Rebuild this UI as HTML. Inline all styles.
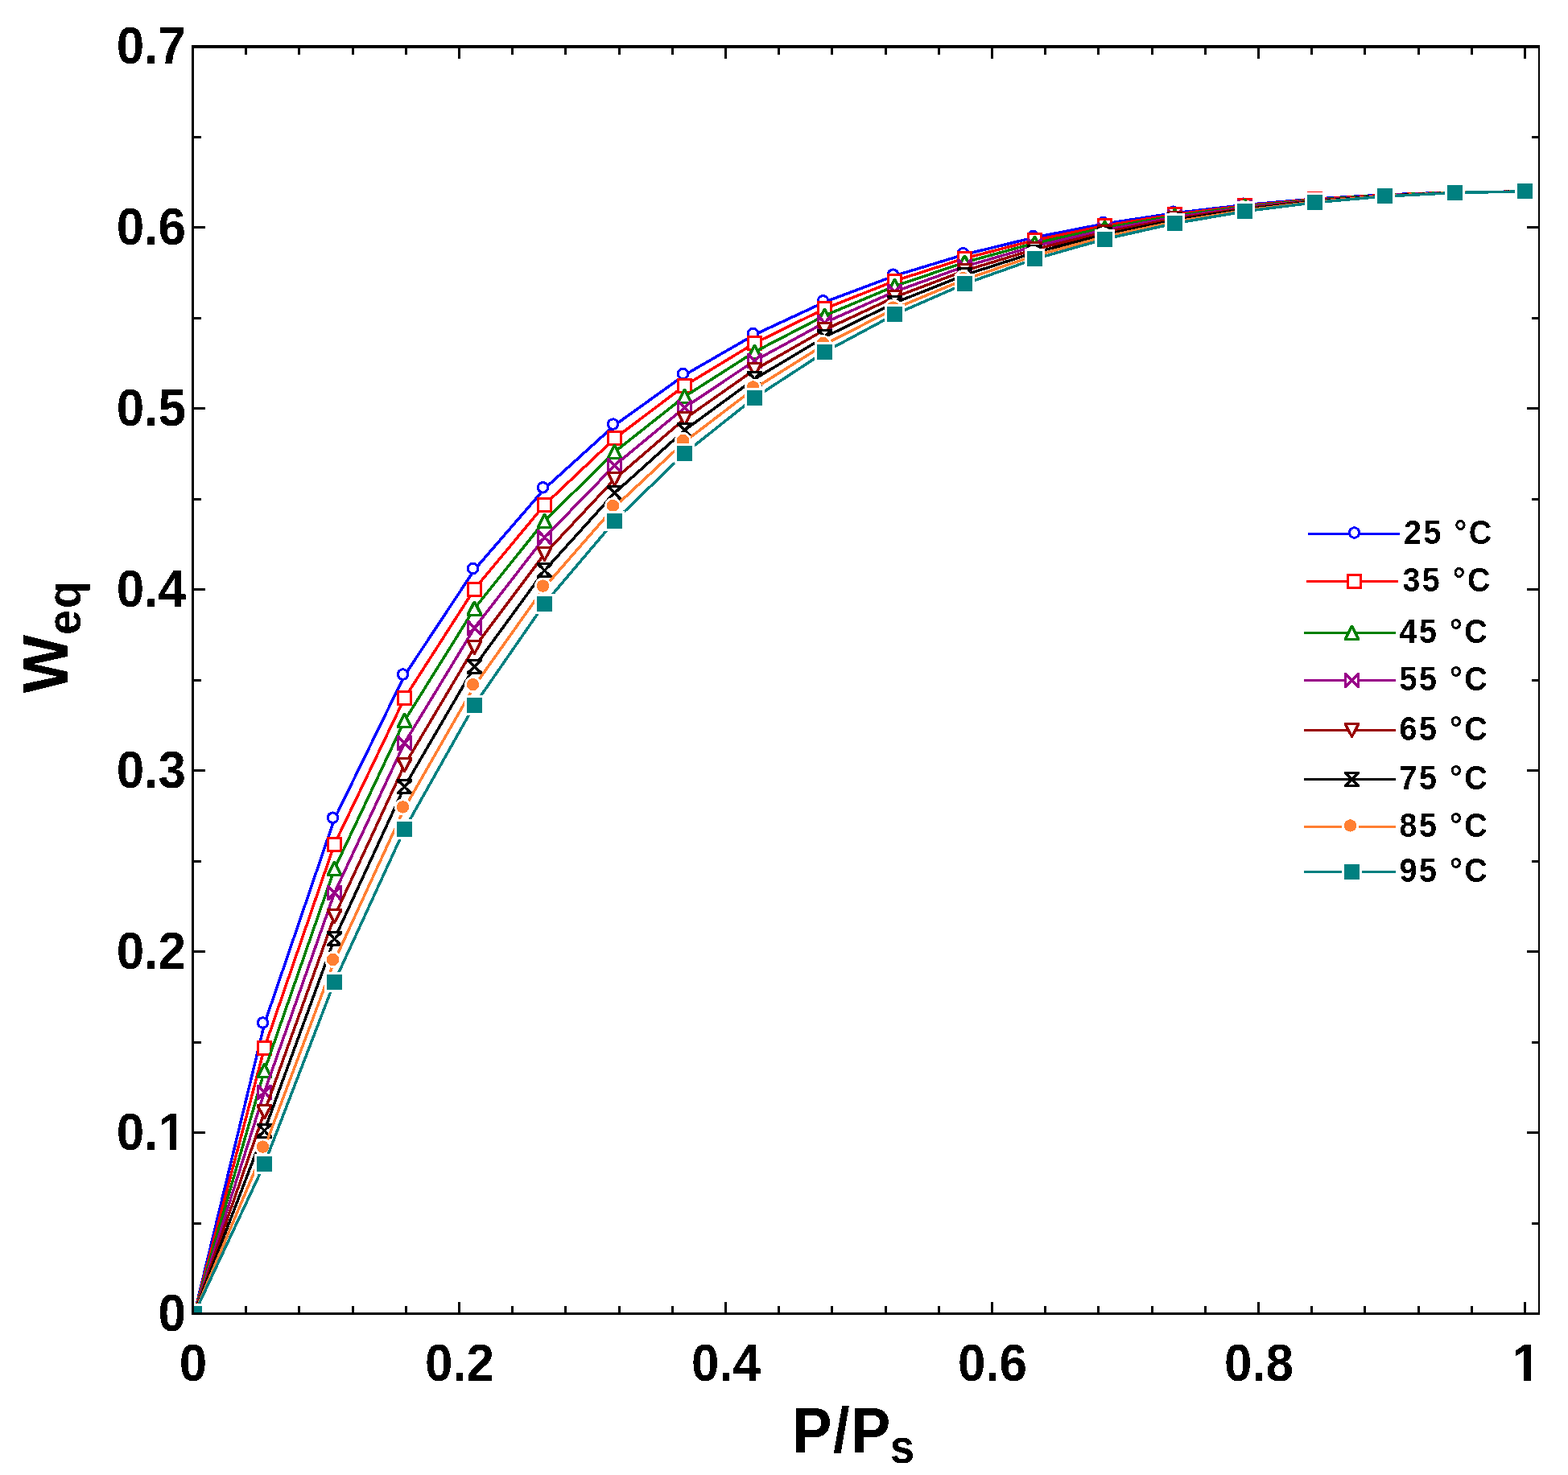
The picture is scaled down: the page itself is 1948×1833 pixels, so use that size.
<!DOCTYPE html>
<html lang="en"><head><meta charset="utf-8"><title>Weq vs P/Ps</title>
<style>
html,body{margin:0;padding:0;background:#fff;}
body{width:1948px;height:1833px;overflow:hidden;font-family:"Liberation Sans",sans-serif;}
svg{display:block;}
</style></head><body>
<svg width="1948" height="1833" viewBox="0 0 1948 1833">
<rect width="1948" height="1833" fill="#fff"/>
<defs>
<clipPath id="pc"><rect x="241" y="60" width="1670" height="1571"/></clipPath>
<filter id="bw" filterUnits="userSpaceOnUse" x="0" y="0" width="1948" height="1833" color-interpolation-filters="sRGB"><feComponentTransfer><feFuncA type="discrete" tableValues="0 1"/></feComponentTransfer></filter>
<g id="m0"><circle cx="-2" cy="-1.5" r="6.25" fill="#fff" stroke="currentColor" stroke-width="3"/></g>
<g id="m1"><path fill="currentColor" d="M-10-9.5H9.5V9.5H-10Z"/><path fill="#fff" d="M-6.5-6.5H6.5V6.5H-6.5Z"/></g>
<g id="m2"><path fill="currentColor" d="M-1.5 -9.5L1.5 -9.5L9.5 6L9.5 9.5L-9.5 9.5L-9.5 6Z"/><path fill="#fff" d="M0 -4.5L5.6 6.5L-5.6 6.5Z"/></g>
<g id="m3"><path fill="currentColor" d="M-10 -9.5L-6.5 -9.5L0 -2.2L6.5 -9.5L9.5 -9.5L9.5 9.5L6.5 9.5L0 2.2L-6.5 9.5L-10 9.5Z"/><path fill="#fff" d="M-6.5 -3.7L-2.3 0L-6.5 3.7ZM6.5 -3.7L2.3 0L6.5 3.7Z"/></g>
<g id="m4"><path fill="currentColor" d="M-9.5 -9.5L9.5 -9.5L9.5 -6L1 9.5L-1 9.5L-9.5 -6Z"/><path fill="#fff" d="M-5.6 -6.5L5.6 -6.5L0 4.2Z"/></g>
<g id="m5"><path fill="currentColor" d="M-9.5 -9.5L9.5 -9.5L9.5 -6.5L2.2 0L9.5 6.5L9.5 9.5L-9.5 9.5L-9.5 6.5L-2.2 0L-9.5 -6.5Z"/><path fill="#fff" d="M-3.7 -6.5L3.7 -6.5L0 -2.3ZM-3.7 6.5L3.7 6.5L0 2.3Z"/></g>
<g id="m6"><circle cx="-2" cy="-1.5" r="10.5" fill="#fff"/><circle cx="-2" cy="-1.5" r="7.7" fill="currentColor"/></g>
<g id="m7"><path fill="#fff" d="M-12.5-12.5H12V12.5H-12.5Z"/><path fill="currentColor" d="M-10-9.5H9.5V9.5H-10Z"/></g>
</defs>
<g clip-path="url(#pc)" shape-rendering="crispEdges">
<g color="#0000ff"><path d="M241.5 1632.5L328.5 1272.44L415.5 1017.66L502.5 839.54L589.5 707.95L676.5 607.31L763.5 528.57L850.5 466.02L937.5 415.85L1024.5 375.37L1111.5 342.63L1198.5 316.19L1285.5 294.94L1372.5 278.01L1459.5 264.74L1546.5 254.59L1633.5 247.12L1720.5 242.01L1807.5 238.99L1894.5 237.93" fill="none" stroke="#0000ff" stroke-width="3.5" stroke-linejoin="round"/>
<use href="#m0" x="241.5" y="1632.5"/>
<use href="#m0" x="328.5" y="1272.44"/>
<use href="#m0" x="415.5" y="1017.66"/>
<use href="#m0" x="502.5" y="839.54"/>
<use href="#m0" x="589.5" y="707.95"/>
<use href="#m0" x="676.5" y="607.31"/>
<use href="#m0" x="763.5" y="528.57"/>
<use href="#m0" x="850.5" y="466.02"/>
<use href="#m0" x="937.5" y="415.85"/>
<use href="#m0" x="1024.5" y="375.37"/>
<use href="#m0" x="1111.5" y="342.63"/>
<use href="#m0" x="1198.5" y="316.19"/>
<use href="#m0" x="1285.5" y="294.94"/>
<use href="#m0" x="1372.5" y="278.01"/>
<use href="#m0" x="1459.5" y="264.74"/>
<use href="#m0" x="1546.5" y="254.59"/>
<use href="#m0" x="1633.5" y="247.12"/>
<use href="#m0" x="1720.5" y="242.01"/>
<use href="#m0" x="1807.5" y="238.99"/>
<use href="#m0" x="1894.5" y="237.93"/>
</g>
<g color="#ff0000"><path d="M241.5 1632.5L328.5 1302.4L415.5 1049.13L502.5 867.75L589.5 732.01L676.5 627.35L763.5 544.99L850.5 479.31L937.5 426.46L1024.5 383.71L1111.5 349.08L1198.5 321.06L1285.5 298.51L1372.5 280.54L1459.5 266.44L1546.5 255.65L1633.5 247.71L1720.5 242.27L1807.5 239.06L1894.5 237.93" fill="none" stroke="#ff0000" stroke-width="3.5" stroke-linejoin="round"/>
<use href="#m1" x="241.5" y="1632.5"/>
<use href="#m1" x="328.5" y="1302.4"/>
<use href="#m1" x="415.5" y="1049.13"/>
<use href="#m1" x="502.5" y="867.75"/>
<use href="#m1" x="589.5" y="732.01"/>
<use href="#m1" x="676.5" y="627.35"/>
<use href="#m1" x="763.5" y="544.99"/>
<use href="#m1" x="850.5" y="479.31"/>
<use href="#m1" x="937.5" y="426.46"/>
<use href="#m1" x="1024.5" y="383.71"/>
<use href="#m1" x="1111.5" y="349.08"/>
<use href="#m1" x="1198.5" y="321.06"/>
<use href="#m1" x="1285.5" y="298.51"/>
<use href="#m1" x="1372.5" y="280.54"/>
<use href="#m1" x="1459.5" y="266.44"/>
<use href="#m1" x="1546.5" y="255.65"/>
<use href="#m1" x="1633.5" y="247.71"/>
<use href="#m1" x="1720.5" y="242.27"/>
<use href="#m1" x="1807.5" y="239.06"/>
<use href="#m1" x="1894.5" y="237.93"/>
</g>
<g color="#008000"><path d="M241.5 1632.5L328.5 1330.63L415.5 1079.84L502.5 895.73L589.5 756.12L676.5 647.56L763.5 561.65L850.5 492.83L937.5 437.28L1024.5 392.23L1111.5 355.67L1198.5 326.05L1285.5 302.18L1372.5 283.14L1459.5 268.19L1546.5 256.74L1633.5 248.32L1720.5 242.54L1807.5 239.13L1894.5 237.93" fill="none" stroke="#008000" stroke-width="3.5" stroke-linejoin="round"/>
<use href="#m2" x="241.5" y="1632.5"/>
<use href="#m2" x="328.5" y="1330.63"/>
<use href="#m2" x="415.5" y="1079.84"/>
<use href="#m2" x="502.5" y="895.73"/>
<use href="#m2" x="589.5" y="756.12"/>
<use href="#m2" x="676.5" y="647.56"/>
<use href="#m2" x="763.5" y="561.65"/>
<use href="#m2" x="850.5" y="492.83"/>
<use href="#m2" x="937.5" y="437.28"/>
<use href="#m2" x="1024.5" y="392.23"/>
<use href="#m2" x="1111.5" y="355.67"/>
<use href="#m2" x="1198.5" y="326.05"/>
<use href="#m2" x="1285.5" y="302.18"/>
<use href="#m2" x="1372.5" y="283.14"/>
<use href="#m2" x="1459.5" y="268.19"/>
<use href="#m2" x="1546.5" y="256.74"/>
<use href="#m2" x="1633.5" y="248.32"/>
<use href="#m2" x="1720.5" y="242.54"/>
<use href="#m2" x="1807.5" y="239.13"/>
<use href="#m2" x="1894.5" y="237.93"/>
</g>
<g color="#990088"><path d="M241.5 1632.5L328.5 1357.14L415.5 1109.72L502.5 923.43L589.5 780.24L676.5 667.92L763.5 578.5L850.5 506.56L937.5 448.3L1024.5 400.94L1111.5 362.42L1198.5 331.16L1285.5 305.95L1372.5 285.81L1459.5 269.99L1546.5 257.86L1633.5 248.94L1720.5 242.81L1807.5 239.2L1894.5 237.93" fill="none" stroke="#990088" stroke-width="3.5" stroke-linejoin="round"/>
<use href="#m3" x="241.5" y="1632.5"/>
<use href="#m3" x="328.5" y="1357.14"/>
<use href="#m3" x="415.5" y="1109.72"/>
<use href="#m3" x="502.5" y="923.43"/>
<use href="#m3" x="589.5" y="780.24"/>
<use href="#m3" x="676.5" y="667.92"/>
<use href="#m3" x="763.5" y="578.5"/>
<use href="#m3" x="850.5" y="506.56"/>
<use href="#m3" x="937.5" y="448.3"/>
<use href="#m3" x="1024.5" y="400.94"/>
<use href="#m3" x="1111.5" y="362.42"/>
<use href="#m3" x="1198.5" y="331.16"/>
<use href="#m3" x="1285.5" y="305.95"/>
<use href="#m3" x="1372.5" y="285.81"/>
<use href="#m3" x="1459.5" y="269.99"/>
<use href="#m3" x="1546.5" y="257.86"/>
<use href="#m3" x="1633.5" y="248.94"/>
<use href="#m3" x="1720.5" y="242.81"/>
<use href="#m3" x="1807.5" y="239.2"/>
<use href="#m3" x="1894.5" y="237.93"/>
</g>
<g color="#990000"><path d="M241.5 1632.5L328.5 1381.95L415.5 1138.75L502.5 950.81L589.5 804.32L676.5 688.4L763.5 595.54L850.5 520.5L937.5 459.52L1024.5 409.82L1111.5 369.31L1198.5 336.39L1285.5 309.8L1372.5 288.55L1459.5 271.83L1546.5 259.01L1633.5 249.57L1720.5 243.1L1807.5 239.27L1894.5 237.93" fill="none" stroke="#990000" stroke-width="3.5" stroke-linejoin="round"/>
<use href="#m4" x="241.5" y="1632.5"/>
<use href="#m4" x="328.5" y="1381.95"/>
<use href="#m4" x="415.5" y="1138.75"/>
<use href="#m4" x="502.5" y="950.81"/>
<use href="#m4" x="589.5" y="804.32"/>
<use href="#m4" x="676.5" y="688.4"/>
<use href="#m4" x="763.5" y="595.54"/>
<use href="#m4" x="850.5" y="520.5"/>
<use href="#m4" x="937.5" y="459.52"/>
<use href="#m4" x="1024.5" y="409.82"/>
<use href="#m4" x="1111.5" y="369.31"/>
<use href="#m4" x="1198.5" y="336.39"/>
<use href="#m4" x="1285.5" y="309.8"/>
<use href="#m4" x="1372.5" y="288.55"/>
<use href="#m4" x="1459.5" y="271.83"/>
<use href="#m4" x="1546.5" y="259.01"/>
<use href="#m4" x="1633.5" y="249.57"/>
<use href="#m4" x="1720.5" y="243.1"/>
<use href="#m4" x="1807.5" y="239.27"/>
<use href="#m4" x="1894.5" y="237.93"/>
</g>
<g color="#000000"><path d="M241.5 1632.5L328.5 1405.1L415.5 1166.86L502.5 977.81L589.5 828.34L676.5 708.97L763.5 612.75L850.5 534.63L937.5 470.92L1024.5 418.87L1111.5 376.35L1198.5 341.74L1285.5 313.75L1372.5 291.35L1459.5 273.72L1546.5 260.2L1633.5 250.23L1720.5 243.39L1807.5 239.35L1894.5 237.93" fill="none" stroke="#000000" stroke-width="3.5" stroke-linejoin="round"/>
<use href="#m5" x="241.5" y="1632.5"/>
<use href="#m5" x="328.5" y="1405.1"/>
<use href="#m5" x="415.5" y="1166.86"/>
<use href="#m5" x="502.5" y="977.81"/>
<use href="#m5" x="589.5" y="828.34"/>
<use href="#m5" x="676.5" y="708.97"/>
<use href="#m5" x="763.5" y="612.75"/>
<use href="#m5" x="850.5" y="534.63"/>
<use href="#m5" x="937.5" y="470.92"/>
<use href="#m5" x="1024.5" y="418.87"/>
<use href="#m5" x="1111.5" y="376.35"/>
<use href="#m5" x="1198.5" y="341.74"/>
<use href="#m5" x="1285.5" y="313.75"/>
<use href="#m5" x="1372.5" y="291.35"/>
<use href="#m5" x="1459.5" y="273.72"/>
<use href="#m5" x="1546.5" y="260.2"/>
<use href="#m5" x="1633.5" y="250.23"/>
<use href="#m5" x="1720.5" y="243.39"/>
<use href="#m5" x="1807.5" y="239.35"/>
<use href="#m5" x="1894.5" y="237.93"/>
</g>
<g color="#ff7f32"><path d="M241.5 1632.5L328.5 1426.62L415.5 1194.04L502.5 1004.4L589.5 852.25L676.5 729.6L763.5 630.1L850.5 548.93L937.5 482.51L1024.5 428.08L1111.5 383.53L1198.5 347.2L1285.5 317.78L1372.5 294.22L1459.5 275.66L1546.5 261.41L1633.5 250.9L1720.5 243.69L1807.5 239.43L1894.5 237.93" fill="none" stroke="#ff7f32" stroke-width="3.5" stroke-linejoin="round"/>
<use href="#m6" x="241.5" y="1632.5"/>
<use href="#m6" x="328.5" y="1426.62"/>
<use href="#m6" x="415.5" y="1194.04"/>
<use href="#m6" x="502.5" y="1004.4"/>
<use href="#m6" x="589.5" y="852.25"/>
<use href="#m6" x="676.5" y="729.6"/>
<use href="#m6" x="763.5" y="630.1"/>
<use href="#m6" x="850.5" y="548.93"/>
<use href="#m6" x="937.5" y="482.51"/>
<use href="#m6" x="1024.5" y="428.08"/>
<use href="#m6" x="1111.5" y="383.53"/>
<use href="#m6" x="1198.5" y="347.2"/>
<use href="#m6" x="1285.5" y="317.78"/>
<use href="#m6" x="1372.5" y="294.22"/>
<use href="#m6" x="1459.5" y="275.66"/>
<use href="#m6" x="1546.5" y="261.41"/>
<use href="#m6" x="1633.5" y="250.9"/>
<use href="#m6" x="1720.5" y="243.69"/>
<use href="#m6" x="1807.5" y="239.43"/>
<use href="#m6" x="1894.5" y="237.93"/>
</g>
<g color="#008080"><path d="M241.5 1632.5L328.5 1446.57L415.5 1220.25L502.5 1030.53L589.5 876.02L676.5 750.27L763.5 647.58L850.5 563.4L937.5 494.26L1024.5 437.45L1111.5 390.84L1198.5 352.78L1285.5 321.91L1372.5 297.15L1459.5 277.64L1546.5 262.65L1633.5 251.59L1720.5 243.99L1807.5 239.51L1894.5 237.93" fill="none" stroke="#008080" stroke-width="3.5" stroke-linejoin="round"/>
<use href="#m7" x="241.5" y="1632.5"/>
<use href="#m7" x="328.5" y="1446.57"/>
<use href="#m7" x="415.5" y="1220.25"/>
<use href="#m7" x="502.5" y="1030.53"/>
<use href="#m7" x="589.5" y="876.02"/>
<use href="#m7" x="676.5" y="750.27"/>
<use href="#m7" x="763.5" y="647.58"/>
<use href="#m7" x="850.5" y="563.4"/>
<use href="#m7" x="937.5" y="494.26"/>
<use href="#m7" x="1024.5" y="437.45"/>
<use href="#m7" x="1111.5" y="390.84"/>
<use href="#m7" x="1198.5" y="352.78"/>
<use href="#m7" x="1285.5" y="321.91"/>
<use href="#m7" x="1372.5" y="297.15"/>
<use href="#m7" x="1459.5" y="277.64"/>
<use href="#m7" x="1546.5" y="262.65"/>
<use href="#m7" x="1633.5" y="251.59"/>
<use href="#m7" x="1720.5" y="243.99"/>
<use href="#m7" x="1807.5" y="239.51"/>
<use href="#m7" x="1894.5" y="237.93"/>
</g>
</g>
<g fill="#000" shape-rendering="crispEdges">
<rect x="238" y="56" width="1675" height="4"/>
<rect x="238" y="1631" width="1675" height="3"/>
<rect x="238" y="56" width="3" height="1578"/>
<rect x="1911" y="56" width="2" height="1578"/>
<rect x="304" y="56" width="3" height="12"/>
<rect x="304" y="1623" width="3" height="11"/>
<rect x="370" y="56" width="3" height="12"/>
<rect x="370" y="1623" width="3" height="11"/>
<rect x="437" y="56" width="3" height="12"/>
<rect x="437" y="1623" width="3" height="11"/>
<rect x="503" y="56" width="3" height="12"/>
<rect x="503" y="1623" width="3" height="11"/>
<rect x="569" y="56" width="3" height="17"/>
<rect x="569" y="1618" width="3" height="16"/>
<rect x="635" y="56" width="3" height="12"/>
<rect x="635" y="1623" width="3" height="11"/>
<rect x="701" y="56" width="3" height="12"/>
<rect x="701" y="1623" width="3" height="11"/>
<rect x="768" y="56" width="3" height="12"/>
<rect x="768" y="1623" width="3" height="11"/>
<rect x="834" y="56" width="3" height="12"/>
<rect x="834" y="1623" width="3" height="11"/>
<rect x="900" y="56" width="3" height="17"/>
<rect x="900" y="1618" width="3" height="16"/>
<rect x="966" y="56" width="3" height="12"/>
<rect x="966" y="1623" width="3" height="11"/>
<rect x="1032" y="56" width="3" height="12"/>
<rect x="1032" y="1623" width="3" height="11"/>
<rect x="1099" y="56" width="3" height="12"/>
<rect x="1099" y="1623" width="3" height="11"/>
<rect x="1165" y="56" width="3" height="12"/>
<rect x="1165" y="1623" width="3" height="11"/>
<rect x="1231" y="56" width="3" height="17"/>
<rect x="1231" y="1618" width="3" height="16"/>
<rect x="1297" y="56" width="3" height="12"/>
<rect x="1297" y="1623" width="3" height="11"/>
<rect x="1363" y="56" width="3" height="12"/>
<rect x="1363" y="1623" width="3" height="11"/>
<rect x="1430" y="56" width="3" height="12"/>
<rect x="1430" y="1623" width="3" height="11"/>
<rect x="1496" y="56" width="3" height="12"/>
<rect x="1496" y="1623" width="3" height="11"/>
<rect x="1562" y="56" width="3" height="17"/>
<rect x="1562" y="1618" width="3" height="16"/>
<rect x="1628" y="56" width="3" height="12"/>
<rect x="1628" y="1623" width="3" height="11"/>
<rect x="1694" y="56" width="3" height="12"/>
<rect x="1694" y="1623" width="3" height="11"/>
<rect x="1761" y="56" width="3" height="12"/>
<rect x="1761" y="1623" width="3" height="11"/>
<rect x="1827" y="56" width="3" height="12"/>
<rect x="1827" y="1623" width="3" height="11"/>
<rect x="1893" y="56" width="3" height="17"/>
<rect x="1893" y="1618" width="3" height="16"/>
<rect x="238" y="1519" width="12" height="3"/>
<rect x="1903" y="1519" width="10" height="3"/>
<rect x="238" y="1406" width="17" height="3"/>
<rect x="1897" y="1406" width="16" height="3"/>
<rect x="238" y="1294" width="12" height="3"/>
<rect x="1903" y="1294" width="10" height="3"/>
<rect x="238" y="1181" width="17" height="3"/>
<rect x="1897" y="1181" width="16" height="3"/>
<rect x="238" y="1069" width="12" height="3"/>
<rect x="1903" y="1069" width="10" height="3"/>
<rect x="238" y="956" width="17" height="3"/>
<rect x="1897" y="956" width="16" height="3"/>
<rect x="238" y="844" width="12" height="3"/>
<rect x="1903" y="844" width="10" height="3"/>
<rect x="238" y="731" width="17" height="3"/>
<rect x="1897" y="731" width="16" height="3"/>
<rect x="238" y="619" width="12" height="3"/>
<rect x="1903" y="619" width="10" height="3"/>
<rect x="238" y="506" width="17" height="3"/>
<rect x="1897" y="506" width="16" height="3"/>
<rect x="238" y="394" width="12" height="3"/>
<rect x="1903" y="394" width="10" height="3"/>
<rect x="238" y="281" width="17" height="3"/>
<rect x="1897" y="281" width="16" height="3"/>
<rect x="238" y="169" width="12" height="3"/>
<rect x="1903" y="169" width="10" height="3"/>
</g>
<g font-family="'Liberation Sans', sans-serif" font-weight="bold" fill="#000" filter="url(#bw)">
<text transform="translate(240,1716) scale(1,1.035)" font-size="62" text-anchor="middle">0</text>
<text transform="translate(571,1716) scale(1,1.035)" font-size="62" text-anchor="middle">0.2</text>
<text transform="translate(902,1716) scale(1,1.035)" font-size="62" text-anchor="middle">0.4</text>
<text transform="translate(1233,1716) scale(1,1.035)" font-size="62" text-anchor="middle">0.6</text>
<text transform="translate(1564,1716) scale(1,1.035)" font-size="62" text-anchor="middle">0.8</text>
<text transform="translate(1896,1716) scale(1,1.035)" font-size="62" text-anchor="middle">1</text>
<text transform="translate(231,1653.5) scale(1,1.035)" font-size="62" text-anchor="end">0</text>
<text transform="translate(231,1428.57) scale(1,1.035)" font-size="62" text-anchor="end">0.1</text>
<text transform="translate(231,1203.64) scale(1,1.035)" font-size="62" text-anchor="end">0.2</text>
<text transform="translate(231,978.71) scale(1,1.035)" font-size="62" text-anchor="end">0.3</text>
<text transform="translate(231,753.79) scale(1,1.035)" font-size="62" text-anchor="end">0.4</text>
<text transform="translate(231,528.86) scale(1,1.035)" font-size="62" text-anchor="end">0.5</text>
<text transform="translate(231,303.93) scale(1,1.035)" font-size="62" text-anchor="end">0.6</text>
<text transform="translate(231,79) scale(1,1.035)" font-size="62" text-anchor="end">0.7</text>
<rect x="1881" y="1708" width="12" height="10" fill="#fff" shape-rendering="crispEdges"/><rect x="1902" y="1708" width="11" height="10" fill="#fff" shape-rendering="crispEdges"/>
<rect x="199" y="1420" width="12" height="10" fill="#fff" shape-rendering="crispEdges"/><rect x="219" y="1420" width="12" height="10" fill="#fff" shape-rendering="crispEdges"/>
<text transform="translate(984.2,1804.8) scale(0.96,1.025)" font-size="77" letter-spacing="1.52">P/P<tspan x="126.7" y="13.3" font-size="57.5" letter-spacing="0">s</tspan></text>
<text transform="translate(84,861.5) rotate(-90) scale(1,1.045)" font-size="77">W<tspan x="72.6" y="14.8" font-size="56" letter-spacing="1.6">eq</tspan></text>
</g>
<g font-family="'Liberation Sans', sans-serif" font-weight="bold" font-size="39.5" letter-spacing="2.5" fill="#000" filter="url(#bw)">
<g color="#0000ff" shape-rendering="crispEdges"><rect x="1625" y="662" width="114" height="3" fill="#0000ff"/><use href="#m0" x="1684.5" y="663.5"/></g>
<text transform="translate(1744,675.9) scale(1,1.07)">25 °C</text>
<g color="#ff0000" shape-rendering="crispEdges"><rect x="1623" y="721" width="114" height="3" fill="#ff0000"/><use href="#m1" x="1682.5" y="722.5"/></g>
<text transform="translate(1742.4,734.9) scale(1,1.07)">35 °C</text>
<g color="#008000" shape-rendering="crispEdges"><rect x="1620" y="785" width="114" height="3" fill="#008000"/><use href="#m2" x="1679.5" y="786.5"/></g>
<text transform="translate(1738.5,798.9) scale(1,1.07)">45 °C</text>
<g color="#990088" shape-rendering="crispEdges"><rect x="1620" y="844" width="114" height="3" fill="#990088"/><use href="#m3" x="1679.5" y="845.5"/></g>
<text transform="translate(1738.5,857.9) scale(1,1.07)">55 °C</text>
<g color="#990000" shape-rendering="crispEdges"><rect x="1620" y="906" width="114" height="3" fill="#990000"/><use href="#m4" x="1679.5" y="907.5"/></g>
<text transform="translate(1738.5,919.9) scale(1,1.07)">65 °C</text>
<g color="#000000" shape-rendering="crispEdges"><rect x="1620" y="967" width="114" height="3" fill="#000000"/><use href="#m5" x="1679.5" y="968.5"/></g>
<text transform="translate(1738.5,980.9) scale(1,1.07)">75 °C</text>
<g color="#ff7f32" shape-rendering="crispEdges"><rect x="1620" y="1026" width="114" height="3" fill="#ff7f32"/><use href="#m6" x="1679.5" y="1027.5"/></g>
<text transform="translate(1738.5,1039.9) scale(1,1.07)">85 °C</text>
<g color="#008080" shape-rendering="crispEdges"><rect x="1620" y="1082" width="114" height="3" fill="#008080"/><use href="#m7" x="1679.5" y="1083.5"/></g>
<text transform="translate(1738.5,1095.9) scale(1,1.07)">95 °C</text>
</g>
</svg>
</body></html>
